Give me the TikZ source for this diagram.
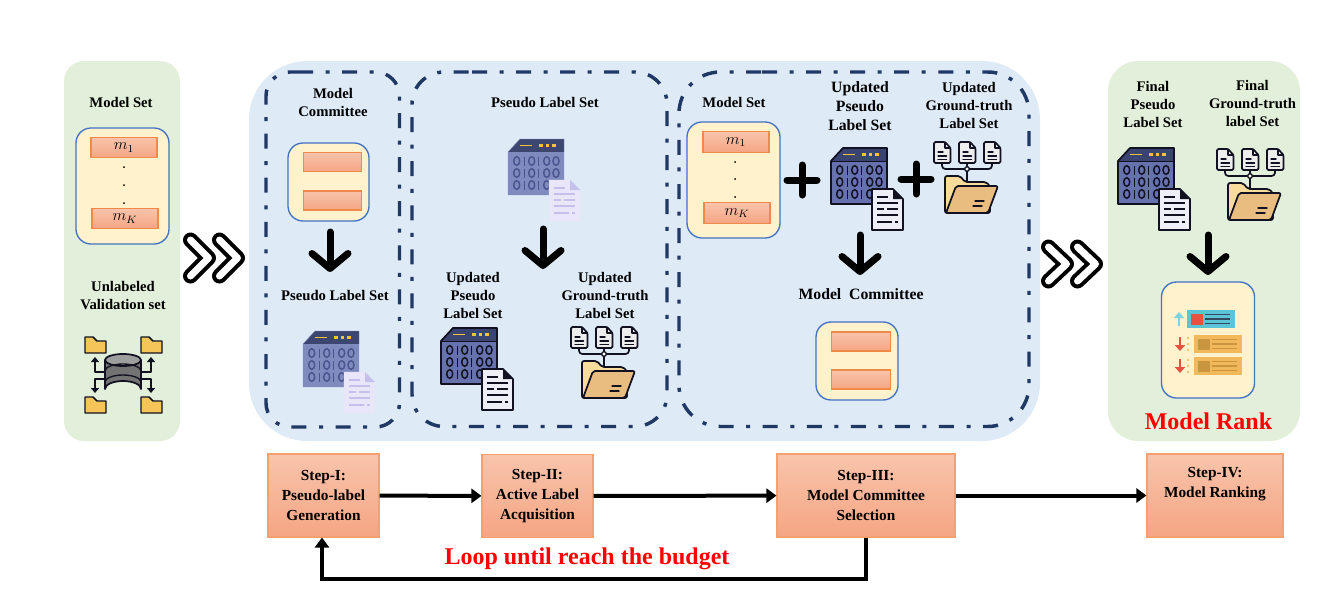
\documentclass[tikz,border=0pt]{standalone}
\usepackage{fontspec}
\setmainfont{Liberation Serif}
\usetikzlibrary{arrows.meta}
\def\px{0.75pt}
\definecolor{panelGreen}{HTML}{E2EFDA}
\definecolor{panelBlue}{HTML}{DEEAF6}
\definecolor{frameNavy}{HTML}{1F3864}
\definecolor{creamFill}{HTML}{FFF2CC}
\definecolor{boxBlue}{HTML}{4472C4}
\definecolor{orangeLine}{HTML}{F08A4B}
\definecolor{stepLine}{HTML}{F4A070}
\definecolor{iconBlack}{HTML}{111122}
\definecolor{gradTop}{HTML}{F8C4AB}
\definecolor{gradBot}{HTML}{F5A583}
\tikzset{
  x=\px, y=-\px,
  panel/.style={rounded corners=#1, inner sep=0pt, outer sep=0pt},
  cream/.style={draw=boxBlue, line width=1pt, fill=creamFill, rounded corners=15*\px, inner sep=0pt},
  modelbar/.style={draw=orangeLine, line width=1pt, top color=gradTop, bottom color=gradBot, inner sep=0pt, minimum width=66*\px, minimum height=20.5*\px, font=\fontsize{12}{12}\selectfont},
  combar/.style={modelbar, minimum width=58.5*\px, minimum height=19*\px},
  stepbox/.style={draw=stepLine, line width=0.8pt, top color=gradTop, bottom color=gradBot, inner sep=0pt, minimum height=83*\px, align=center, font=\bfseries\fontsize{11.5}{15}\selectfont},
  lab/.style={align=center, inner sep=0pt, font=\bfseries\fontsize{11}{13.5}\selectfont},
  labbig/.style={lab, font=\bfseries\fontsize{11.8}{14}\selectfont},
  redlab/.style={text=red, inner sep=0pt, font=\bfseries\fontsize{18}{20}\selectfont},
  dashframe/.style={draw=frameNavy, line width=2.6pt, dash pattern=on 11.25pt off 9.4pt on 3pt off 9.4pt},
  flow/.style={draw=black, line width=3pt, -{Triangle[length=10*\px,width=14*\px]}},
  bigdown/.style={draw=black, line width=7*\px, line cap=round, -{Straight Barb[length=15*\px,width=36*\px,round]}},
  plusbar/.style={draw=black, line width=7*\px, line cap=round},
  chevblack/.style={draw=black, line width=15*\px, line cap=round, line join=round},
  chevwhite/.style={draw=white, line width=7*\px, line cap=round, line join=round},
  iconline/.style={draw=iconBlack, line width=1.3pt, line join=round, line cap=round},
}
% window + document icon, origin = top left of the window
\newcommand\binlw{1.3pt}
\newcommand\FadedColors{\colorlet{binLine}{binFillF}\colorlet{binFill}{binFillF}\colorlet{binHead}{binHeadF}\colorlet{binDigit}{binDigitF}\colorlet{binDoc}{binDocF}\colorlet{binDocLine}{binDocLineF}\colorlet{binDocEdge}{binDocF}\renewcommand\binlw{0.3pt}}
\newcommand\DarkColors{\colorlet{binLine}{iconBlack}\colorlet{binFill}{binFillD}\colorlet{binHead}{binHeadD}\colorlet{binDigit}{iconBlack}\colorlet{binDoc}{binDocD}\colorlet{binDocLine}{iconBlack}\colorlet{binDocEdge}{iconBlack}\renewcommand\binlw{1.3pt}}
\definecolor{binFillF}{HTML}{7F8ABF}
\definecolor{binHeadF}{HTML}{3C4670}
\definecolor{binDigitF}{HTML}{4A5590}
\definecolor{binDocF}{HTML}{E8E6F8}
\definecolor{binDocLineF}{HTML}{C5BFEC}
\definecolor{binFillD}{HTML}{6672AE}
\definecolor{binHeadD}{HTML}{3A4470}
\definecolor{binDocD}{HTML}{EEEEF8}
\definecolor{chipYellow}{HTML}{F8C33C}
\newcommand\binwin{%
  \fill[binFill] (0,13) -- (56,13) -- (56,56) -- (0,56) -- cycle;
  \fill[binHead] (0,13) -- (12,0) -- (56,0) -- (56,13) -- cycle;
  \draw[binLine, line width=\binlw, line join=round] (0,13) -- (12,0) -- (56,0) -- (56,56) -- (0,56) -- cycle;
  \draw[binLine, line width=0.5pt] (0,13) -- (56,13);
  \draw[chipYellow, line width=1.2pt] (12,6.5) -- (24,6.5);
  \foreach \c in {33,39.5,46}{\fill[chipYellow] (\c-1.9,4.6) rectangle (\c+1.9,8.4);}
  \foreach \r in {22,34,46}{
    \foreach \c in {8.7,23.7,38.7,48}{\draw[binDigit, line width=1.1pt] (\c,\r) ellipse [x radius=3, y radius=4.3];}
    \foreach \c in {16.3,30.5}{\draw[binDigit, line width=1.2pt] (\c,\r-4.5) -- (\c,\r+4.5);}
  }
  \begin{scope}[shift={(41,41)}]
    \draw[binDocEdge, fill=binDoc, line width=\binlw, line join=round] (0,0) -- (21,0) -- (31,10) -- (31,41) -- (0,41) -- cycle;
    \fill[binDocLine] (21,0) -- (31,10) -- (21,10) -- cycle;
    \foreach \a/\b/\r in {5/16/8, 5/26/14, 15/26/20, 5/12/20, 5/26/26, 5/20/33, 23/26/33}{\draw[binDocLine, line width=1.1pt] (\a,\r) -- (\b,\r);}
  \end{scope}
}
% documents feeding a folder, origin = top left of the first document
\definecolor{folderBack}{HTML}{F9DC9B}
\definecolor{folderFront}{HTML}{E9BC7F}
\definecolor{sheetGrey}{HTML}{EDEDED}
\newcommand\treefolder{%
  \draw[iconline, rounded corners=2.5pt] (8,21) -- (8,27) -- (58,27) -- (58,21);
  \draw[iconline] (33,21) -- (33,40);
  \foreach \d in {0,25,50}{
    \begin{scope}[shift={(\d,0)}]
      \draw[iconline, fill=sheetGrey, rounded corners=1pt] (0,0) -- (11,0) -- (16.5,6) -- (16.5,21) -- (0,21) -- cycle;
      \draw[iconline, line width=0.9pt] (11,0) -- (11,6) -- (16.5,6);
      \draw[iconline, line width=1pt] (4,10) -- (9,10) (4,14) -- (12.5,14) (4,17.5) -- (12.5,17.5);
    \end{scope}
  }
  \draw[iconline, fill=white, line width=1pt] (33,27) circle (2.3);
  \draw[iconline, fill=folderBack, rounded corners=1.5pt] (11,71) -- (11,34) -- (26,34) -- (31,40) -- (52,40) -- (56,44) -- (56,71) -- cycle;
  \draw[iconline, fill=folderFront, rounded corners=1.5pt] (22,44) -- (64,44) -- (54,71) -- (12,71) -- cycle;
  \draw[iconline, line width=1pt] (41,59) -- (50,59) (39,64) -- (48,64);
}
\definecolor{folderYellow}{HTML}{F5C55A}
\newcommand\miniFolder[2]{%
  \draw[iconline, line width=1.1pt, fill=folderYellow] (#1,#2+16) -- (#1,#2) -- (#1+8,#2) -- (#1+12,#2+4) -- (#1+21,#2+4) -- (#1+21,#2+16) -- cycle;
}
\newcommand\barIcon[8]{%
  % #1 y, #2 row x, #3 row fill, #4 square fill, #5 line colour, #6 arrow colour, #7 arrow dir, #8 arrow x
  \fill[#3] (#2,#1) rectangle (#2+48,#1+18);
  \fill[#4] (#2+4,#1+3.5) rectangle (#2+16,#1+14.5);
  \foreach \r in {4.5,9,13.5}{\draw[#5, line width=1.2pt] (#2+18,#1+\r) -- (#2+43,#1+\r);}
  \draw[#6, line width=2.2pt, -{Triangle[length=6*\px,width=10*\px]}] (#8,#1+9-#7) -- (#8,#1+9+#7);
}
\begin{document}
\begin{tikzpicture}
\useasboundingbox (0,0) rectangle (1340,604);
% panels
\node[panel=20*\px, fill=panelGreen, minimum width=116*\px, minimum height=380*\px] (pLeft) at (122,251) {};
\node[panel=58*\px, fill=panelBlue, minimum width=791*\px, minimum height=380*\px] (pMid) at (644.5,251) {};
\node[panel=30*\px, fill=panelGreen, minimum width=192*\px, minimum height=380*\px] (pRight) at (1204,251) {};
% dash-dot frames
\draw[dashframe, rounded corners=18pt] (298,72) -- (399.5,72) -- (399.5,427) -- (266,427) -- (266,72) -- (298,72);
\draw[dashframe, rounded corners=24pt] (472,72) -- (667,72) -- (667,426.5) -- (412,426.5) -- (412,72) -- (472,72);
\draw[dashframe, rounded corners=31pt] (762,72) -- (1029,72) -- (1029,426.5) -- (679,426.5) -- (679,72) -- (762,72);
% left column
\node[lab] (tModelA) at (121,102) {Model Set};
\node[cream, minimum width=93*\px, minimum height=116*\px] (modelA) at (122.5,186) {};
\node[modelbar] (mA1) at (124,147.5) {$m_1$};
\node[modelbar] (mAK) at (125,218.5) {$m_K$};
\foreach \yy in {167,185,203}{\fill (124,\yy) circle (1);}
\node[lab] (tUnl) at (123,295.5) {Unlabeled\\Validation set};
\begin{scope}[shift={(123,375)}]
  \foreach \sx in {-1,1}{
    \begin{scope}[xscale=\sx]
      \draw[iconline, line width=1.5pt, -{Triangle[length=5*\px,width=8*\px]}] (18,-3) -- (28,-3) -- (28,-18);
      \draw[iconline, line width=1.5pt, -{Triangle[length=5*\px,width=8*\px]}] (18,4) -- (28,4) -- (28,18);
    \end{scope}
  }
  \draw[iconline, fill=black!55] (-18,-15) -- (-18,14) arc[start angle=180,end angle=360,x radius=18,y radius=8] -- (18,-15);
  \draw[iconline, fill=black!38] (0,-15) ellipse [x radius=18, y radius=6];
  \draw[iconline, line width=1pt] (-18,-4) arc[start angle=180,end angle=360,x radius=18,y radius=7];
  \draw[iconline, line width=1pt] (-18,7) arc[start angle=180,end angle=360,x radius=18,y radius=7];
\end{scope}
\miniFolder{85}{337}
\miniFolder{141}{337}
\miniFolder{85}{397}
\miniFolder{141}{397}
% first chevrons
\foreach \sh in {0,29}{
  \draw[chevblack] (190.5+\sh,240) -- (208.5+\sh,258) -- (190.5+\sh,276);
  \draw[chevwhite] (190.5+\sh,240) -- (208.5+\sh,258) -- (190.5+\sh,276);
}
% frame 1
\node[lab] (tComA) at (333,102) {Model\\Committee};
\node[cream, minimum width=81*\px, minimum height=78*\px] (comA) at (328.5,182) {};
\node[combar] (cA1) at (332.5,162) {};
\node[combar] (cA2) at (332.5,200.5) {};
\coordinate (arA1) at (330,232);
\coordinate (arA2) at (330,272);
\draw[bigdown] (arA1) -- (arA2);
\node[lab] (tPseudoA) at (335,295) {Pseudo Label Set};
\begin{scope}[shift={(303,331)}]\FadedColors\binwin\end{scope}
% frame 2
\node[lab] (tPseudoB) at (545,102) {Pseudo Label Set};
\begin{scope}[shift={(508,139)}]\FadedColors\binwin\end{scope}
\coordinate (arB1) at (543,229);
\coordinate (arB2) at (543,269);
\draw[bigdown] (arB1) -- (arB2);
\node[lab] (tUpdPA) at (473,295.5) {Updated\\Pseudo\\Label Set};
\node[lab] (tUpdGA) at (605,295.5) {Updated\\Ground-truth\\Label Set};
\begin{scope}[shift={(441,328)}]\DarkColors\binwin\end{scope}
\begin{scope}[shift={(571,327)}]\treefolder\end{scope}
% frame 3
\node[lab] (tModelB) at (734,102) {Model Set};
\node[cream, minimum width=93*\px, minimum height=116*\px] (modelB) at (733.5,180) {};
\node[modelbar] (mB1) at (736,142) {$m_1$};
\node[modelbar] (mBK) at (737,213) {$m_K$};
\foreach \yy in {162,179,197}{\fill (735,\yy) circle (1);}
\draw[plusbar] (787,180) -- (817,180) (802,165) -- (802,195);
\node[labbig] (tUpdPB) at (860,106) {Updated\\Pseudo\\Label Set};
\begin{scope}[shift={(831,148)}]\DarkColors\binwin\end{scope}
\draw[plusbar] (901,179) -- (931,179) (916,164) -- (916,194);
\node[lab] (tUpdGB) at (969,105) {Updated\\Ground-truth\\Label Set};
\begin{scope}[shift={(934,142)}]\treefolder\end{scope}
\coordinate (arC1) at (860,235);
\coordinate (arC2) at (860,275);
\draw[bigdown] (arC1) -- (arC2);
\node[labbig] (tComB) at (861,294) {Model\ \ Committee};
\node[cream, minimum width=82*\px, minimum height=78*\px] (comB) at (857,361) {};
\node[combar] (cB1) at (861,341.5) {};
\node[combar] (cB2) at (861,379.5) {};
% second chevrons
\foreach \sh in {0,29}{
  \draw[chevblack] (1048.5+\sh,247) -- (1066.5+\sh,264) -- (1048.5+\sh,281);
  \draw[chevwhite] (1048.5+\sh,247) -- (1066.5+\sh,264) -- (1048.5+\sh,281);
}
% right panel
\node[lab] (tFinP) at (1153,104) {Final\\Pseudo\\Label Set};
\node[lab] (tFinG) at (1252.5,103.5) {Final\\Ground-truth\\label Set};
\begin{scope}[shift={(1118,148)}]\DarkColors\binwin\end{scope}
\begin{scope}[shift={(1217,149)}]\treefolder\end{scope}
\coordinate (arD1) at (1208,235);
\coordinate (arD2) at (1208,275);
\draw[bigdown] (arD1) -- (arD2);
\node[cream, minimum width=93*\px, minimum height=116*\px] (rank) at (1208,340) {};
\definecolor{teal1}{HTML}{5BC4D6}\definecolor{arrUp}{HTML}{7FD3E0}\definecolor{red1}{HTML}{E8503F}
\definecolor{amber1}{HTML}{F2B85A}\definecolor{amber2}{HTML}{C9953F}\definecolor{navy1}{HTML}{34495E}
\barIcon{310}{1187}{teal1}{red1}{navy1}{arrUp}{-7}{1179}
\barIcon{335}{1194}{amber1}{amber2}{amber2}{red1}{7}{1180}
\barIcon{357}{1194}{amber1}{amber2}{amber2}{red1}{7}{1180}
\foreach \yy in {338,344,350,360,366,372}{\fill[amber1] (1188,\yy) circle (1.2);}
\node[redlab] (tRank) at (1208.5,421) {Model Rank};
% steps
\node[stepbox, minimum width=111*\px] (s1) at (323.5,495.5) {Step-I:\\Pseudo-label\\Generation};
\node[stepbox, minimum width=111*\px] (s2) at (537.5,496) {Step-II:\\Active Label\\Acquisition};
\node[stepbox, minimum width=178*\px] (s3) at (866,495.5) {Step-III:\\Model Committee\\Selection};
\node[stepbox, minimum width=136*\px] (s4) at (1215,495.5) {Step-IV:\\Model Ranking\\\strut};
\draw[flow] (s1) -- (s2);
\draw[flow] (s2) -- (s3);
\draw[flow] (s3) -- (s4);
\draw[flow] (s3.south) -- ++(0,41) -| ([xshift=-1.5*\px]s1.south);
\node[redlab] (tLoop) at (587,559) {Loop until reach the budget};
\end{tikzpicture}
\end{document}
